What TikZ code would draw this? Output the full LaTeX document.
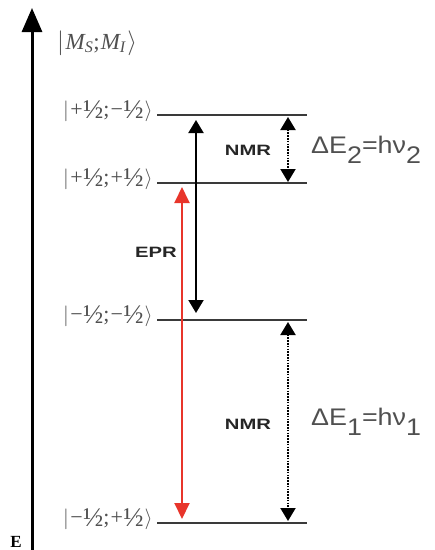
\documentclass[tikz,border=0pt]{standalone}
\usepackage{fontspec}
\setmainfont{Liberation Serif}
\newfontfamily\arial{Liberation Sans}
\usetikzlibrary{arrows.meta}
\definecolor{lvl}{HTML}{3A3A3A}
\definecolor{txt}{HTML}{505050}
\definecolor{eprred}{HTML}{E8352B}
\newcommand\myket[1]{$\big\vert$\kern1.5pt#1\kern1pt$\big\rangle$}
\newcommand\myhalf{\raisebox{-0.12em}{\fontsize{27}{27}\selectfont ½}}
\newcommand\mydig[1]{\raisebox{-0.42em}{#1}}
\begin{document}
\begin{tikzpicture}[x=1pt,y=-1pt,
  level/.style={draw=lvl,line width=1.4pt},
  lab/.style={anchor=east,inner sep=0pt,text=txt,font=\fontsize{22}{22}\selectfont},
  solidarr/.style={line width=2pt,{Triangle[width=15pt,length=13pt]}-{Triangle[width=15pt,length=13pt]}},
  dotarr/.style={line width=2pt,dash pattern=on 1.6pt off 1.2pt,{Triangle[width=15pt,length=13pt]}-{Triangle[width=15pt,length=13pt]}},
  redarr/.style={line width=2pt,draw=eprred,{Triangle[width=15pt,length=16pt]}-{Triangle[width=15pt,length=16pt]}},
  bold/.style={inner sep=0pt,font=\arial\bfseries\fontsize{15}{15}\selectfont,text=black!85},
  delta/.style={anchor=west,inner sep=0pt,font=\arial\fontsize{24}{24}\selectfont,text=txt}]
\useasboundingbox (0,0) rectangle (435,550);
% energy axis
\coordinate (ax0) at (32,552);
\coordinate (ax1) at (32,8);
\draw[line width=3pt,-{Triangle[width=20pt,length=24pt]}] (ax0) -- (ax1);
\node[anchor=north,inner sep=0pt,font=\bfseries\fontsize{17}{17}\selectfont] (E) at (16,536) {E};
% header
\node[anchor=west,inner sep=0pt,text=txt,font=\fontsize{23}{23}\selectfont] (hdr) at (57,43)
  {\myket{\textit{M}\kern-1pt\textsubscript{\textit{S}};\kern1pt\textit{M}\kern-1pt\textsubscript{\textit{I}}}};
% levels
\foreach \n/\y in {a/115,b/183,c/320,d/523}{
  \coordinate (\n L) at (157,\y);
  \coordinate (\n R) at (307,\y);
  \draw[level] (\n L) -- (\n R);
}
\node[lab] (la) at (153,111) {\myket{+\kern.5pt\myhalf;\kern1pt−\kern.5pt\myhalf}};
\node[lab] (lb) at (153,179) {\myket{+\kern.5pt\myhalf;\kern1pt+\kern.5pt\myhalf}};
\node[lab] (lc) at (153,316) {\myket{−\kern.5pt\myhalf;\kern1pt−\kern.5pt\myhalf}};
\node[lab] (ld) at (153,519) {\myket{−\kern.5pt\myhalf;\kern1pt+\kern.5pt\myhalf}};
% arrow end points
\coordinate (s1) at (196,120);
\coordinate (s2) at (196,313);
\coordinate (r1) at (182,187);
\coordinate (r2) at (182,519);
\coordinate (n1) at (288,117);
\coordinate (n2) at (288,182);
\coordinate (m1) at (288,322);
\coordinate (m2) at (288,521);
\draw[solidarr] (s1) -- (s2);
\draw[redarr] (r1) -- (r2);
\draw[dotarr] (n1) -- (n2);
\draw[dotarr] (m1) -- (m2);
% labels
\node[bold] (epr) at (156,252) {\scalebox{1.35}[1]{EPR}};
\node[bold] (nmr2) at (248,150) {\scalebox{1.35}[1]{NMR}};
\node[bold] (nmr1) at (248,424) {\scalebox{1.35}[1]{NMR}};
\node[delta] (de2) at (311,150) {\scalebox{1.12}[1]{ΔE\mydig{2}=hν\mydig{2}}};
\node[delta] (de1) at (311,422) {\scalebox{1.12}[1]{ΔE\mydig{1}=hν\mydig{1}}};
\end{tikzpicture}
\end{document}
